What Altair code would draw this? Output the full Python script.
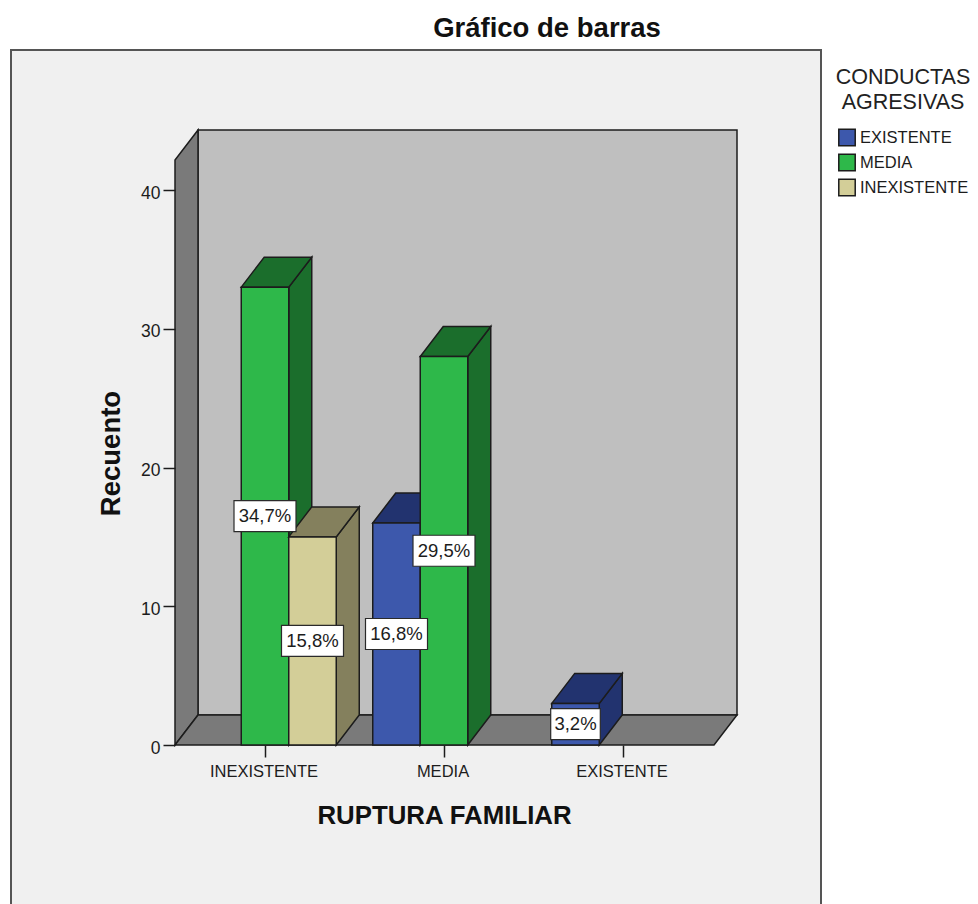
import altair as alt
import pandas as pd

# ---- chart values ----
CATEGORIES = ["INEXISTENTE", "MEDIA", "EXISTENTE"]
SERIES = ["EXISTENTE", "MEDIA", "INEXISTENTE"]
COUNT_EXISTENTE = [0, 16, 3]
COUNT_MEDIA = [33, 28, 0]
COUNT_INEXISTENTE = [15, 0, 0]
PCT_EXISTENTE = ["", "16,8%", "3,2%"]
PCT_MEDIA = ["34,7%", "29,5%", ""]
PCT_INEXISTENTE = ["15,8%", "", ""]
FRONT = ["#3d58ac", "#2eb84a", "#d3ce98"]
DARK = ["#22336f", "#1b6e2c", "#84805d"]
Y_TICKS = [0, 10, 20, 30, 40]

FONT = "Liberation Sans"
INK = "#1c1c1c"

# ---- pixel <-> data relation of the 3-D frame ----
PX_PER_CAT = 179.0
PX_PER_COUNT = 13.875
def ux(px): return (px - 265.0) / PX_PER_CAT
def uy(py): return (745.0 - py) / PX_PER_COUNT
BAR_W = 47.5 / PX_PER_CAT
DX = 23.0 / PX_PER_CAT
DY = 30.0 / PX_PER_COUNT
WALL_TOP = uy(160)

x_scale = alt.Scale(domain=[ux(8), ux(970)], nice=False, zero=False)
y_scale = alt.Scale(domain=[uy(904), uy(8)], nice=False, zero=False)

label_expr = "[" + ",".join(f"'{c}'" for c in CATEGORIES) + "][datum.value]"
x_axis = alt.Axis(values=[0, 1, 2], labelExpr=label_expr, offset=-159, domain=False, grid=False,
                  tickSize=12, tickColor=INK, tickWidth=1.5, labelFont=FONT, labelFontSize=16.5,
                  labelColor=INK, labelPadding=6, labelOffset=-1.5, labelFlush=False, labelOverlap=False,
                  zindex=1, title="RUPTURA FAMILIAR", titleFont=FONT, titleFontSize=25.8,
                  titleFontWeight="bold", titleColor="#111111", titleX=436, titleY=70,
                  titleBaseline="middle", titleAlign="center")
y_axis = alt.Axis(values=Y_TICKS, offset=-167, domain=False, grid=False, tickSize=12, tickColor=INK,
                  tickWidth=1.5, labelFont=FONT, labelFontSize=17.5, labelColor=INK, labelPadding=3,
                  labelOffset=3, zindex=1, title="Recuento", titleFont=FONT, titleFontSize=27.5,
                  titleFontWeight="bold", titleColor="#111111", titleX=-64, titleY=445, titleAngle=270,
                  titleBaseline="middle", titleAlign="center")

X = alt.X("x:Q", scale=x_scale, axis=x_axis)
Y = alt.Y("y:Q", scale=y_scale, axis=y_axis)


def rect(x, x2, y, y2, fill, stroke=INK, sw=1.5):
    df = pd.DataFrame({"x": [x], "x2": [x2], "y": [y], "y2": [y2]})
    return alt.Chart(df).mark_rect(fill=fill, stroke=stroke, strokeWidth=sw).encode(
        x=X, x2="x2:Q", y=Y, y2="y2:Q")


def vert_area(rows, fill):
    df = pd.DataFrame(rows, columns=["x", "y", "y2"])
    return alt.Chart(df).mark_area(fill=fill, stroke=INK, strokeWidth=1.5, opacity=1).encode(
        x=X, y=Y, y2="y2:Q")


def horiz_area(rows, fill):
    df = pd.DataFrame(rows, columns=["y", "x", "x2"])
    return alt.Chart(df).mark_area(orient="horizontal", fill=fill, stroke=INK, strokeWidth=1.5,
                                   opacity=1).encode(y=Y, x=X, x2="x2:Q")


layers = []
# panel, walls, floor
layers.append(rect(ux(11), ux(821), uy(50), uy(930), "#f0f0f0", "#555555", 2))
layers.append(rect(ux(175) + DX, ux(737), 0 + DY, uy(130), "#bfbfbf"))
layers.append(vert_area([(ux(175), 0, WALL_TOP), (ux(175) + DX, DY, WALL_TOP + DY)], "#7a7a7a"))
layers.append(horiz_area([(0, ux(175), ux(714)), (DY, ux(175) + DX, ux(714) + DX)], "#7a7a7a"))

# bars, painted left to right
COUNTS = [COUNT_EXISTENTE, COUNT_MEDIA, COUNT_INEXISTENTE]
PCTS = [PCT_EXISTENTE, PCT_MEDIA, PCT_INEXISTENTE]
bars = []
for c in range(len(CATEGORIES)):
    for s in range(len(SERIES)):
        if COUNTS[s][c] > 0:
            bars.append((c, s, COUNTS[s][c], PCTS[s][c]))

legend = alt.Legend(orient="none", legendX=828, legendY=59, title=["CONDUCTAS", "AGRESIVAS"],
                    titleFont=FONT, titleFontSize=21.5, titleFontWeight="normal", titleColor="#222222",
                    titleLineHeight=25, titleAlign="center", titleAnchor="middle", titlePadding=15,
                    titleLimit=200, labelFont=FONT, labelFontSize=16.5, labelColor=INK, labelOffset=4,
                    labelLimit=200, symbolType="square", symbolSize=270, symbolStrokeColor=INK,
                    symbolStrokeWidth=1.5, rowPadding=1, padding=0, symbolOpacity=1)
for c, s, v, _ in bars:
    left = c + (s - 1) * BAR_W - BAR_W / 2
    right = left + BAR_W
    layers.append(vert_area([(right, 0, v), (right + DX, DY, v + DY)], DARK[s]))
    layers.append(horiz_area([(v, left, right), (v + DY, left + DX, right + DX)], DARK[s]))
    df = pd.DataFrame({"x": [left], "x2": [right], "y": [0], "y2": [v], "serie": [SERIES[s]]})
    layers.append(alt.Chart(df).mark_rect(stroke=INK, strokeWidth=1.5, opacity=1).encode(
        x=X, x2="x2:Q", y=Y, y2="y2:Q",
        color=alt.Color("serie:N", scale=alt.Scale(domain=SERIES, range=FRONT), legend=legend)))

# value labels
for c, s, v, txt in bars:
    cx = c + (s - 1) * BAR_W
    w = (len(txt) * 12.4) / PX_PER_CAT
    h = 31.0 / PX_PER_COUNT
    layers.append(rect(cx - w / 2, cx + w / 2, v / 2 - h / 2, v / 2 + h / 2, "#ffffff", "#2a2a2a", 1.2))
    df = pd.DataFrame({"x": [cx], "y": [v / 2], "t": [txt]})
    layers.append(alt.Chart(df).mark_text(font=FONT, fontSize=18.5, color=INK, align="center",
                                          baseline="middle").encode(x=X, y=Y, text="t:N"))

chart = alt.layer(*layers).properties(
    width=962, height=896, padding=0, autosize=alt.AutoSizeParams(type="none"),
    background="#ffffff",
    title=alt.TitleParams("Gráfico de barras", font=FONT, fontSize=27.5, fontWeight="bold", color="#111111",
                          anchor="middle", frame="group", dx=58, dy=38),
).configure_view(stroke=None)

chart.save("out.html", embed_options={"renderer": "svg", "actions": False})
